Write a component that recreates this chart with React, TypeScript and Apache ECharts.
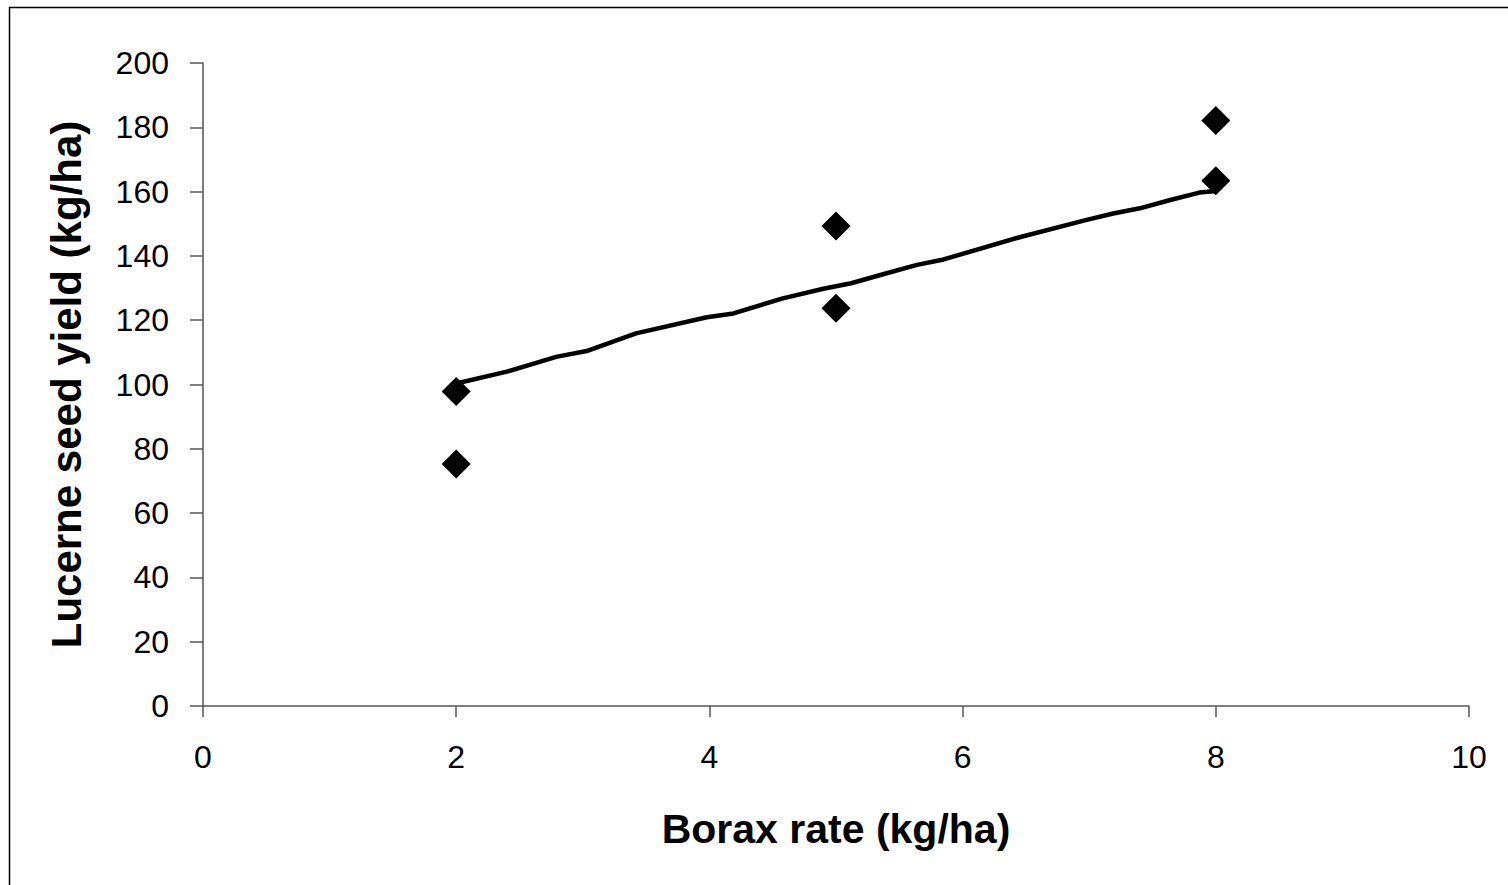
import React, { useEffect, useRef } from "react";
import * as echarts from "echarts";

const borax = [2, 2, 5, 5, 8, 8];
const yieldVals = [97.8, 75.3, 149.3, 123.7, 182.1, 163.4];

const trendX = [2.0, 2.4, 2.79, 3.03, 3.42, 3.98, 4.19, 4.58, 4.9, 5.12, 5.4, 5.64, 5.85, 6.45, 6.98, 7.19, 7.4, 7.64, 7.87, 8.0];
const trendY = [100.3, 104.0, 108.6, 110.4, 115.9, 120.9, 122.1, 126.8, 129.8, 131.5, 134.6, 137.2, 138.9, 145.8, 151.2, 153.2, 154.8, 157.4, 159.7, 160.2];

const xTitle = "Borax rate (kg/ha)";
const yTitle = "Lucerne seed yield (kg/ha)";

const FONT = "'Liberation Sans', Arial, sans-serif";

export default function App() {
  const ref = useRef<HTMLDivElement>(null);
  useEffect(() => {
    if (!ref.current) return;
    const chart = echarts.init(ref.current, null, { renderer: "svg" });
    chart.setOption({
      animation: false,
      backgroundColor: "#ffffff",
      graphic: [
        {
          type: "rect",
          shape: { x: 9.5, y: 7.5, width: 1540, height: 920 },
          style: { fill: "none", stroke: "#000", lineWidth: 1.5 },
          silent: true,
        },
      ],
      grid: { left: 203, right: 39, top: 63, bottom: 179, containLabel: false },
      xAxis: {
        type: "value",
        min: 0,
        max: 10,
        interval: 2,
        name: xTitle,
        nameLocation: "middle",
        nameGap: 102,
        nameTextStyle: { fontFamily: FONT, fontSize: 41, fontWeight: "bold", color: "#000" },
        axisLine: { show: true, onZero: false, lineStyle: { color: "#555", width: 1.5 } },
        axisTick: { show: true, inside: false, length: 11, lineStyle: { color: "#555", width: 1.5 } },
        axisLabel: { fontFamily: FONT, fontSize: 32, color: "#000", margin: 35 },
        splitLine: { show: false },
      },
      yAxis: {
        type: "value",
        min: 0,
        max: 200,
        interval: 20,
        name: yTitle,
        nameLocation: "middle",
        nameGap: 116,
        nameTextStyle: { fontFamily: FONT, fontSize: 42, fontWeight: "bold", color: "#000" },
        axisLine: { show: true, lineStyle: { color: "#555", width: 1.5 } },
        axisTick: { show: true, inside: false, length: 13, lineStyle: { color: "#555", width: 1.5 } },
        axisLabel: { fontFamily: FONT, fontSize: 32, color: "#000", margin: 34 },
        splitLine: { show: false },
      },
      series: [
        {
          type: "line",
          data: trendX.map((x, i) => [x, trendY[i]]),
          showSymbol: false,
          symbol: "none",
          smooth: false,
          lineStyle: { color: "#000", width: 4.5 },
          z: 2,
        },
        {
          type: "scatter",
          data: borax.map((x, i) => [x, yieldVals[i]]),
          symbol: "diamond",
          symbolSize: 29,
          itemStyle: { color: "#000", opacity: 1 },
          z: 3,
        },
      ],
    });
    return () => chart.dispose();
  }, []);
  return (
    <div
      ref={ref}
      style={{ position: "fixed", left: 0, top: 0, width: 1508, height: 885, background: "#fff" }}
    />
  );
}
